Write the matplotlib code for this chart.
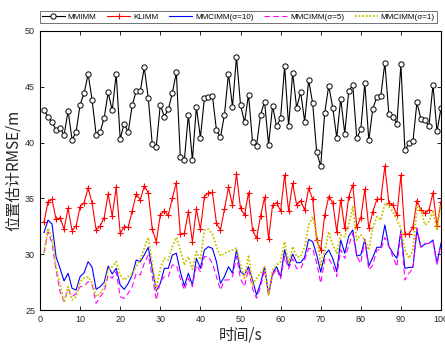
import matplotlib
matplotlib.use('Agg')
import matplotlib.pyplot as plt
import numpy as np

# --- DATA ---
t = np.arange(1, 101)

mmimm = [42.89, 42.32, 41.82, 41.16, 41.31, 40.65, 42.86, 40.26, 40.95, 43.40,
         44.41, 46.15, 43.79, 40.71, 40.95, 42.20, 44.50, 42.89, 46.15, 40.35,
         41.70, 40.95, 43.34, 44.65, 44.59, 46.74, 43.97, 39.84, 39.64, 43.40,
         42.32, 42.98, 44.44, 46.30, 38.68, 38.44, 42.50, 38.44, 43.19, 40.44,
         43.97, 44.12, 44.18, 41.13, 40.47, 42.50, 46.18, 43.22, 47.70, 43.40,
         41.82, 44.30, 40.08, 39.73, 42.50, 43.67, 39.81, 43.28, 41.46, 42.20,
         46.83, 41.46, 46.24, 43.13, 44.53, 41.88, 45.58, 43.52, 39.13, 37.90,
         42.65, 45.10, 43.13, 40.44, 43.94, 40.80, 44.65, 45.13, 40.38, 41.19,
         45.31, 40.20, 43.04, 44.09, 44.21, 47.16, 42.53, 42.29, 41.70, 47.01,
         39.31, 39.93, 40.11, 43.61, 42.08, 42.00, 41.49, 45.19, 41.01, 43.07]

klimm = [32.86, 34.71, 34.92, 33.12, 33.27, 32.26, 34.11, 32.11, 32.53, 34.26,
         34.62, 35.96, 34.56, 32.17, 32.53, 33.27, 35.39, 33.42, 35.99, 31.87,
         32.47, 32.41, 33.90, 35.39, 34.86, 36.11, 35.51, 32.23, 31.12, 33.51,
         33.87, 33.51, 35.01, 36.41, 31.78, 31.87, 33.81, 31.12, 34.02, 32.23,
         35.16, 35.51, 35.54, 32.77, 32.17, 34.02, 35.99, 34.41, 37.19, 34.11,
         33.51, 35.51, 32.17, 31.42, 33.42, 35.10, 31.36, 34.41, 34.62, 33.87,
         37.10, 33.87, 36.35, 34.41, 34.80, 33.96, 35.90, 34.92, 31.27, 30.38,
         33.51, 35.16, 34.62, 32.02, 34.86, 32.32, 35.16, 36.20, 32.47, 33.27,
         35.81, 32.32, 33.81, 34.92, 34.92, 37.90, 34.56, 34.41, 33.51, 37.10,
         31.81, 31.81, 32.41, 34.80, 33.96, 33.66, 33.96, 35.51, 32.53, 34.71]

mmc10 = [31.93, 33.06, 32.71, 29.78, 28.73, 27.60, 28.29, 26.94, 26.79, 27.99,
         28.34, 29.33, 28.82, 26.85, 27.09, 27.48, 28.94, 28.23, 28.73, 27.24,
         26.85, 27.39, 28.14, 29.48, 29.33, 29.93, 30.62, 28.70, 26.70, 27.39,
         28.73, 28.73, 29.93, 30.08, 28.43, 27.15, 28.29, 27.24, 29.63, 28.73,
         30.38, 30.67, 30.52, 29.33, 27.39, 27.99, 28.88, 28.29, 30.38, 28.43,
         28.14, 28.88, 27.69, 26.34, 27.39, 28.88, 26.43, 28.29, 28.88, 27.99,
         30.38, 28.94, 30.02, 29.24, 29.24, 29.72, 31.33, 31.12, 29.93, 28.40,
         29.93, 30.38, 29.63, 28.43, 31.27, 30.08, 31.63, 32.17, 29.84, 29.93,
         31.33, 28.94, 29.72, 30.62, 30.62, 32.62, 30.73, 30.08, 29.63, 32.11,
         28.73, 28.82, 28.82, 32.11, 30.62, 30.91, 30.97, 31.27, 29.20, 31.00]

mmc5 = [30.10, 32.00, 31.00, 28.58, 26.64, 25.75, 26.85, 26.19, 26.49, 27.09,
        27.15, 27.54, 27.24, 25.60, 26.19, 26.64, 28.14, 27.84, 28.43, 26.19,
        26.04, 26.49, 27.09, 28.29, 28.14, 29.18, 29.93, 27.99, 25.90, 27.54,
        27.99, 27.99, 29.03, 29.03, 27.84, 26.79, 27.84, 27.09, 29.03, 28.43,
        29.78, 29.78, 29.18, 27.99, 26.79, 27.69, 27.69, 27.99, 29.78, 27.80,
        27.10, 28.70, 26.90, 26.05, 27.10, 28.60, 26.30, 28.10, 28.70, 27.80,
        29.80, 28.70, 29.60, 28.70, 28.70, 29.50, 30.50, 30.50, 29.20, 27.40,
        29.50, 29.60, 29.00, 28.00, 30.40, 29.63, 30.80, 31.87, 29.78, 29.18,
        31.27, 28.58, 29.03, 30.38, 30.38, 31.50, 30.68, 29.78, 28.88, 32.02,
        27.69, 28.29, 28.73, 32.32, 30.68, 30.97, 30.97, 31.12, 29.03, 30.97]

mmc1 = [30.14, 32.32, 31.42, 28.88, 27.24, 25.70, 27.09, 25.90, 26.19, 27.54,
        27.84, 27.99, 27.39, 26.19, 26.49, 27.09, 28.58, 28.88, 29.33, 28.14,
        27.69, 27.99, 28.23, 28.88, 29.48, 30.53, 31.51, 29.18, 26.85, 28.73,
        29.63, 29.48, 30.68, 31.51, 30.38, 29.03, 29.78, 28.64, 30.23, 29.48,
        32.17, 32.23, 31.81, 30.68, 29.84, 30.08, 30.23, 30.38, 30.53, 29.03,
        27.84, 29.93, 27.24, 27.84, 28.29, 28.88, 26.34, 28.58, 29.03, 29.33,
        31.12, 29.18, 30.68, 29.78, 29.78, 30.68, 32.62, 33.36, 31.72, 29.03,
        30.23, 32.02, 30.83, 30.08, 31.72, 31.57, 32.62, 34.26, 31.27, 31.72,
        31.27, 30.38, 32.32, 33.36, 33.06, 34.56, 34.26, 33.81, 33.06, 32.32,
        30.38, 29.63, 30.38, 34.26, 33.96, 32.62, 32.92, 33.81, 32.17, 34.56]

labels = ['MMIMM', 'KLIMM', 'MMCIMM(σ=10)', 'MMCIMM(σ=5)', 'MMCIMM(σ=1)']
xticks = [0, 10, 20, 30, 40, 50, 60, 70, 80, 90, 100]
yticks = [25, 30, 35, 40, 45, 50]

# --- FIGURE ---
plt.rcParams['font.family'] = ['Liberation Sans', 'DejaVu Sans']
fig = plt.figure(figsize=(4.45, 3.44), dpi=100)
ax = fig.add_axes([40 / 445, 1 - 310 / 344, 401 / 445, 279 / 344])

ax.plot(t, mmimm, color='black', lw=0.8, marker='o', ms=3.8,
        mfc='white', mec='black', mew=0.7, label=labels[0])
ax.plot(t, klimm, color='red', lw=0.8, marker='+', ms=5, mew=0.8, label=labels[1])
ax.plot(t, mmc10, color='blue', lw=0.8, label=labels[2])
ax.plot(t, mmc5, color='#FF00FF', lw=0.8, ls=(0, (5, 3)), label=labels[3])
ax.plot(t, mmc1, color='#C8C400', lw=1.3, ls=(0, (1, 1)), label=labels[4])

ax.set_xlim(0, 100)
ax.set_ylim(25, 50)
ax.set_xticks(xticks)
ax.set_yticks(yticks)
ax.tick_params(direction='in', top=True, right=True, labelsize=6.5,
               labelcolor='#262626', length=3, width=0.6)
for s in ax.spines.values():
    s.set_linewidth(0.8)

cjk = ['Noto Sans CJK SC', 'DejaVu Sans']
ax.set_xlabel('时间/s', family=cjk, fontsize=11, color='#262626', labelpad=2)
ax.set_ylabel('位置估计RMSE/m', family=cjk, fontsize=11, color='#262626', labelpad=2)

# legend box spans the axes width just above it
leg = fig.legend(loc='lower left', bbox_to_anchor=(40 / 445, 1 - 23 / 344, 397 / 445, 13 / 344),
                 mode='expand', ncol=5, fontsize=5.8, frameon=True, fancybox=False,
                 edgecolor='#333333', handlelength=2.8, handletextpad=0.4,
                 columnspacing=0.6, borderpad=0.25, borderaxespad=0)
leg.get_frame().set_linewidth(0.6)

fig.savefig('out.png', dpi=100)
